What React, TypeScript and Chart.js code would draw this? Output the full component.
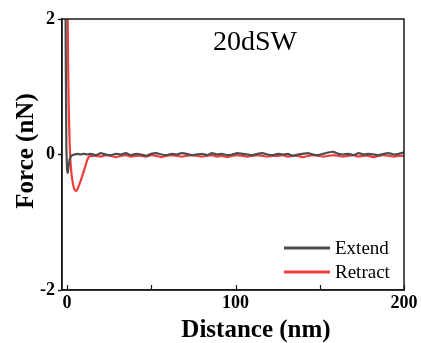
import { useEffect, useRef } from 'react';
import { Chart, registerables } from 'chart.js';

Chart.register(...registerables);

const chartTitle = '20dSW';
const xAxisTitle = 'Distance (nm)';
const yAxisTitle = 'Force (nN)';
const seriesNames = ['Extend', 'Retract'];
const seriesColors = ['#4d4d4d', '#f03c3c'];

const xTickValues = [0, 50, 100, 150, 200];
const xTickLabels = ['0', '', '100', '', '200'];
const yTickValues = [-2, 0, 2];
const yTickLabels = ['-2', '0', '2'];

const extendDistance = [
  -1.2, -0.8, -0.4, 0.0, 0.4, 0.9, 1.5, 2.2, 3.0, 4.5, 6.0, 8.0, 10.0, 12.0,
  14, 17, 20, 23, 26, 29, 32, 35, 38, 41,
  44, 47, 50, 53, 56, 59, 62, 65, 68, 71,
  74, 77, 80, 83, 86, 89, 92, 95, 98, 101,
  104, 107, 110, 113, 116, 119, 122, 125, 128, 131,
  134, 137, 140, 143, 146, 149, 152, 155, 158, 161,
  164, 167, 170, 173, 176, 179, 182, 185, 188, 191,
  194, 197, 200,
];
const extendForce = [
  4.0, 1.6, 0.1, -0.22, -0.27, -0.18, -0.08, -0.03, -0.01, 0.0, 0.01, 0.0, 0.01, 0.0,
  0.01, -0.01, 0.02, 0.0, -0.01, 0.01, 0.0, 0.02, -0.01, 0.01,
  0.0, -0.02, 0.01, 0.02, 0.0, -0.01, 0.01, 0.0, 0.02, 0.01,
  -0.01, 0.0, 0.01, -0.01, 0.02, 0.0, 0.01, -0.01, 0.0, 0.02,
  0.01, 0.0, -0.01, 0.01, 0.02, 0.0, -0.01, 0.01, 0.0, 0.01,
  -0.02, 0.0, 0.01, 0.02, 0.0, -0.01, 0.01, 0.03, 0.04, 0.01,
  0.0, 0.01, -0.01, 0.02, 0.0, 0.01, 0.0, -0.01, 0.01, 0.02,
  0.0, 0.01, 0.03,
];

const retractDistance = [
  0.0, 0.3, 0.6, 1.0, 1.5, 2.0, 2.7, 3.5, 4.3, 5.2, 6.0, 7.5, 9.0, 10.5, 12.0, 13.0, 15.0,
  17, 20, 23, 26, 29, 32, 35, 38, 41, 44,
  47, 50, 53, 56, 59, 62, 65, 68, 71, 74,
  77, 80, 83, 86, 89, 92, 95, 98, 101, 104,
  107, 110, 113, 116, 119, 122, 125, 128, 131, 134,
  137, 140, 143, 146, 149, 152, 155, 158, 161, 164,
  167, 170, 173, 176, 179, 182, 185, 188, 191, 194,
  197, 200,
];
const retractForce = [
  4.0, 2.3, 1.4, 0.7, 0.2, -0.1, -0.3, -0.43, -0.51, -0.54, -0.52, -0.43, -0.32, -0.2, -0.08, -0.03, -0.02,
  -0.02, -0.03, -0.01, -0.02, -0.04, -0.02, -0.01, -0.03, -0.02, -0.02,
  -0.03, -0.01, -0.02, -0.04, -0.02, -0.01, -0.02, -0.03, -0.02, -0.01,
  -0.02, -0.03, -0.02, -0.01, -0.03, -0.02, -0.04, -0.02, -0.01, -0.02,
  -0.03, -0.02, -0.01, -0.02, -0.03, -0.02, -0.02, -0.01, -0.03, -0.02,
  -0.02, -0.04, -0.02, -0.01, -0.02, -0.03, -0.02, -0.01, -0.02, -0.03,
  -0.02, -0.01, -0.03, -0.02, -0.02, -0.04, -0.02, -0.01, -0.02, -0.03,
  -0.02, -0.02,
];

const FONT = '"Liberation Serif", "Times New Roman", serif';

const decorPlugin = {
  id: 'decor',
  afterDraw(chart: any) {
    const { ctx, chartArea } = chart;
    const { left, right, top, bottom } = chartArea;
    const xScale = chart.scales.x;
    ctx.save();
    // frame
    ctx.strokeStyle = '#1a1a1a';
    ctx.lineWidth = 1.5;
    ctx.strokeRect(left, top, right - left, bottom - top);
    // inward x ticks
    ctx.beginPath();
    xTickValues.forEach((v) => {
      const px = Math.round(xScale.getPixelForValue(v)) + 0.5;
      ctx.moveTo(px, bottom);
      ctx.lineTo(px, bottom - 5);
    });
    ctx.lineWidth = 1.2;
    ctx.stroke();
    // chart title
    ctx.fillStyle = '#000';
    ctx.font = `28px ${FONT}`;
    ctx.textAlign = 'center';
    ctx.textBaseline = 'alphabetic';
    ctx.fillText(chartTitle, 255, 50);
    // x axis title
    ctx.font = `bold 25px ${FONT}`;
    ctx.fillText(xAxisTitle, 256, 337);
    // y axis title
    ctx.save();
    ctx.translate(27, 151);
    ctx.rotate(-Math.PI / 2);
    ctx.textBaseline = 'middle';
    ctx.fillText(yAxisTitle, 0, 0);
    ctx.restore();
    // legend
    const legendY = [248, 272];
    ctx.font = `19px ${FONT}`;
    ctx.textAlign = 'left';
    ctx.textBaseline = 'middle';
    seriesNames.forEach((name, i) => {
      ctx.strokeStyle = seriesColors[i];
      ctx.lineWidth = 3;
      ctx.beginPath();
      ctx.moveTo(284, legendY[i]);
      ctx.lineTo(330, legendY[i]);
      ctx.stroke();
      ctx.fillStyle = '#000';
      ctx.fillText(name, 335, legendY[i] + 1);
    });
    ctx.restore();
  },
};

export default function App() {
  const canvasRef = useRef<HTMLCanvasElement | null>(null);

  useEffect(() => {
    document.body.style.margin = '0';
    const canvas = canvasRef.current;
    if (!canvas) return;
    const chart = new Chart(canvas, {
      type: 'line',
      data: {
        datasets: [
          {
            label: seriesNames[0],
            data: extendDistance.map((d, i) => ({ x: d, y: extendForce[i] })),
            borderColor: seriesColors[0],
            backgroundColor: seriesColors[0],
            borderWidth: 2.2,
            pointRadius: 0,
            tension: 0.1,
          },
          {
            label: seriesNames[1],
            data: retractDistance.map((d, i) => ({ x: d, y: retractForce[i] })),
            borderColor: seriesColors[1],
            backgroundColor: seriesColors[1],
            borderWidth: 2.2,
            pointRadius: 0,
            tension: 0.1,
          },
        ],
      },
      options: {
        responsive: false,
        animation: false,
        layout: { padding: { left: 0, top: 19, right: 17, bottom: 0 } },
        plugins: {
          legend: { display: false },
          tooltip: { enabled: false },
          title: { display: false },
        },
        scales: {
          x: {
            type: 'linear',
            min: -3,
            max: 200,
            afterBuildTicks: (s: any) => {
              s.ticks = xTickValues.map((v) => ({ value: v }));
            },
            afterFit: (s: any) => {
              s.height = 53;
            },
            ticks: {
              autoSkip: false,
              maxRotation: 0,
              padding: 3,
              color: '#000',
              font: { family: FONT, size: 18, weight: 'bold' },
              callback: (v: any) => {
                const i = xTickValues.indexOf(Number(v));
                return i >= 0 ? xTickLabels[i] : '';
              },
            },
            grid: { display: true, drawOnChartArea: false, drawTicks: false },
            border: { display: true, color: '#1a1a1a', width: 1.5 },
          },
          y: {
            type: 'linear',
            min: -2,
            max: 2,
            afterBuildTicks: (s: any) => {
              s.ticks = yTickValues.map((v) => ({ value: v }));
            },
            afterFit: (s: any) => {
              s.width = 62;
            },
            ticks: {
              autoSkip: false,
              padding: 3,
              color: '#000',
              font: { family: FONT, size: 18, weight: 'bold' },
              callback: (v: any) => {
                const i = yTickValues.indexOf(Number(v));
                return i >= 0 ? yTickLabels[i] : '';
              },
            },
            grid: {
              display: true,
              drawOnChartArea: false,
              drawTicks: true,
              tickLength: 4,
              tickWidth: 1.5,
              tickColor: '#1a1a1a',
            },
            border: { display: true, color: '#1a1a1a', width: 1.5 },
          },
        },
      },
      plugins: [decorPlugin],
    } as any);
    return () => chart.destroy();
  }, []);

  return (
    <div style={{ width: 421, height: 343 }}>
      <canvas ref={canvasRef} width={421} height={343} style={{ display: 'block' }} />
    </div>
  );
}
